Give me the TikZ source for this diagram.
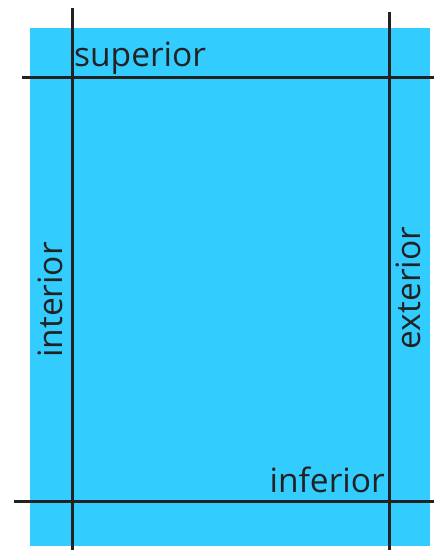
\documentclass[tikz,border=0pt]{standalone}
\usepackage{fontspec}
\setmainfont{Open Sans}
\definecolor{pageblue}{HTML}{33CCFF}
\definecolor{ink}{HTML}{222222}
\begin{document}
\begin{tikzpicture}[x=1pt,y=-1pt,
  guide/.style={draw=ink,line width=3.0pt},
  lbl/.style={inner sep=0pt,text=ink,font=\fontsize{33.5}{38}\selectfont}]
\useasboundingbox (0,0) rectangle (434,550);
\fill[pageblue] (30,28) rectangle (430,546);
\coordinate (h1a) at (22,77);  \coordinate (h1b) at (434,77);
\coordinate (h2a) at (14,501); \coordinate (h2b) at (434,501);
\coordinate (v1a) at (72,8);   \coordinate (v1b) at (72,550);
\coordinate (v2a) at (389,12); \coordinate (v2b) at (389,550);
\draw[guide] (h1a) -- (h1b);
\draw[guide] (h2a) -- (h2b);
\draw[guide] (v1a) -- (v1b);
\draw[guide] (v2a) -- (v2b);
\node[lbl,anchor=base west] (sup) at (74,66) {superior};
\node[lbl,anchor=base east] (inf) at (385,492) {inferior};
\node[lbl,anchor=base,rotate=90] (int) at (62,300) {interior};
\node[lbl,anchor=base,rotate=90] (ext) at (420,288) {exterior};
\end{tikzpicture}
\end{document}
